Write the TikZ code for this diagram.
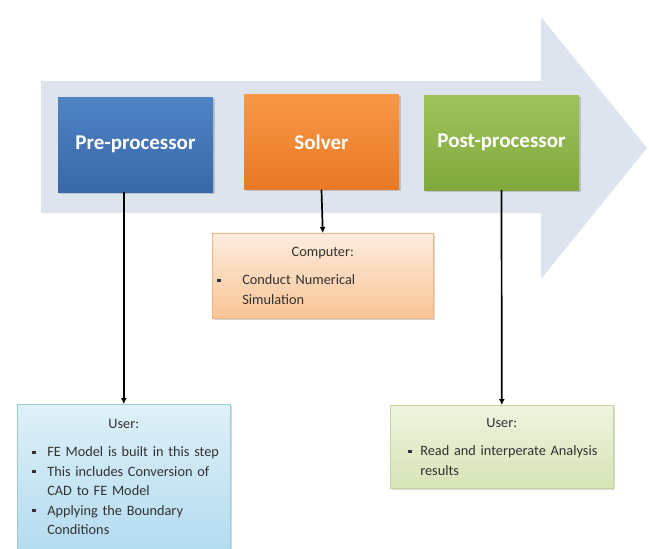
\documentclass[tikz,border=0pt]{standalone}
\usepackage{fontspec}
\setmainfont{Carlito}
\usetikzlibrary{calc,positioning,arrows.meta,shadows}
\definecolor{flow}{RGB}{221,228,238}
\definecolor{preTop}{RGB}{79,131,196}
\definecolor{preBot}{RGB}{56,104,168}
\definecolor{solTop}{RGB}{249,152,70}
\definecolor{solBot}{RGB}{232,120,36}
\definecolor{postTop}{RGB}{160,194,92}
\definecolor{postBot}{RGB}{128,168,60}
\definecolor{cmpTop}{RGB}{253,236,222}
\definecolor{cmpBot}{RGB}{250,196,150}
\definecolor{cmpLine}{RGB}{244,180,130}
\definecolor{usrTop}{RGB}{222,240,248}
\definecolor{usrBot}{RGB}{176,218,238}
\definecolor{usrLine}{RGB}{150,204,222}
\definecolor{resTop}{RGB}{238,244,224}
\definecolor{resBot}{RGB}{214,228,182}
\definecolor{resLine}{RGB}{196,214,156}
\definecolor{note}{RGB}{50,50,50}

% square bullet item, text hangs under its first word
\newcommand{\bul}[2][11pt]{\par\hangindent=26pt\hangafter=1\noindent
  \makebox[26pt][l]{\hspace{#1}\raisebox{3pt}{\rule{3.2pt}{3.2pt}}}#2\par}
\newcommand{\notehead}[1]{{\centering #1\par}\vspace{9pt}\raggedright}

\begin{document}
\begin{tikzpicture}[x=1pt,y=-1pt,
  stage/.style={minimum width=155pt,minimum height=95pt,text=white,
    font=\fontsize{21}{23}\selectfont\bfseries,
    drop shadow={shadow xshift=1.5pt,shadow yshift=-1.5pt,opacity=0.35}},
  notebox/.style={draw,line width=0.6pt,anchor=north west,align=left,
    text=note,font=\fontsize{14.3}{19.5}\selectfont,inner xsep=4pt,inner ysep=3pt,
    drop shadow={shadow xshift=1.5pt,shadow yshift=-1.5pt,opacity=0.3}},
  link/.style={line width=1.7pt,-{Latex[length=6pt,width=6pt]}}]
  \useasboundingbox (0,0) rectangle (649,549);
  \clip (0,0) rectangle (649,549);
  % the process arrow behind the stages
  \fill[flow] (41,81) -- (541,81) -- (541,17) -- (647,148) -- (541,279)
    -- (541,213) -- (41,213) -- cycle;

  \node[stage,top color=preTop,bottom color=preBot] (pre) at (135.5,144.5) {Pre-processor};
  \node[stage,top color=solTop,bottom color=solBot] (solver) at (321.5,142) {Solver};
  \node[stage,top color=postTop,bottom color=postBot] (post) at (501.5,142.5) {Post-processor};

  \node[notebox,draw=cmpLine,top color=cmpTop,bottom color=cmpBot,
    text width=213pt,minimum height=85pt] (computer) at (212,233)
    {\notehead{Computer:}
     \bul[1pt]{Conduct Numerical\newline Simulation}};
  % runs on past the bottom edge
  \node[notebox,draw=usrLine,top color=usrTop,bottom color=usrBot,
    text width=205pt] (user) at (17,404)
    {\notehead{\rule{0pt}{21pt}User:}
     \bul{FE Model is built in this step}
     \bul{This includes Conversion of\newline CAD to FE Model}
     \bul{Applying the Boundary\newline Conditions}
     \rule{0pt}{24pt}};
  \node[notebox,draw=resLine,top color=resTop,bottom color=resBot,
    text width=215pt,minimum height=83pt] (results) at (390,405)
    {\notehead{User:}
     \bul[14pt]{Read and interperate Analysis\newline results}};

  \draw[link] (user.north |- pre.south) -- (user.north);
  \draw[link] (solver.south) -- (computer.north);
  \draw[link] (post.south) -- (results.north);
\end{tikzpicture}
\end{document}
